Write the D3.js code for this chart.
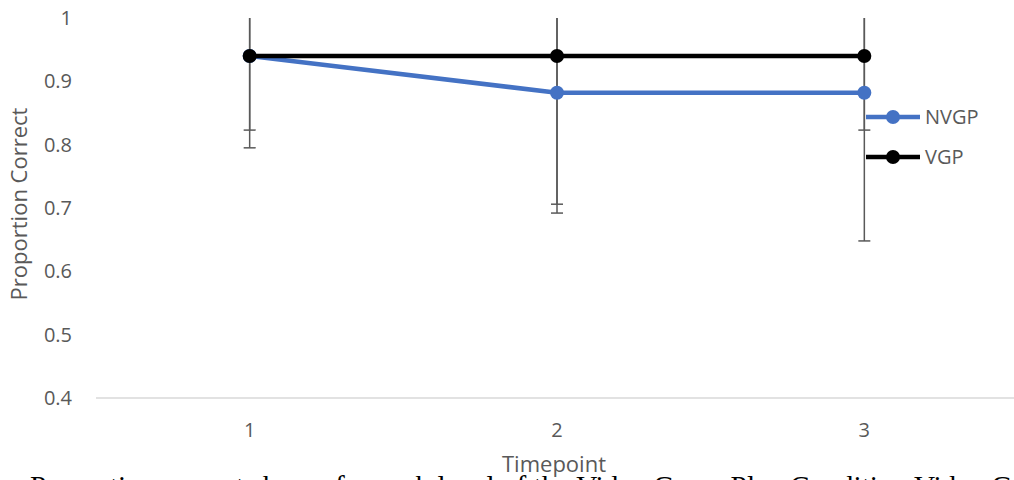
<!DOCTYPE html>
<html>
<head>
<meta charset="utf-8">
<script src="https://cdn.jsdelivr.net/npm/d3@7"></script>
<style>
  body { margin: 0; background: #fff; }
  svg { display: block; }
</style>
</head>
<body>
<svg id="chart" width="1014" height="480"></svg>
<script>
// data
var timepoints = ["1", "2", "3"];
var seriesNames = ["NVGP", "VGP"];
var nvgp = [0.94, 0.882, 0.882];
var vgp = [0.94, 0.94, 0.94];
var nvgpErr = [0.117, 0.176, 0.234];
var vgpErr = [0.145, 0.248, 0.117];
var yTicks = [0.4, 0.5, 0.6, 0.7, 0.8, 0.9, 1];
var colors = ["#4472c4", "#000000"];

var svg = d3.select("#chart");
var plotLeft = 96, plotRight = 1018, plotTop = 18, plotBottom = 398;

var x = d3.scaleBand().domain(timepoints).range([plotLeft, plotRight]);
var y = d3.scaleLinear().domain([0.4, 1]).range([plotBottom, plotTop]);

var font = "'Open Sans', 'DejaVu Sans', sans-serif";

// y tick labels
svg.append("g").selectAll("text")
    .data(yTicks)
    .enter().append("text")
    .attr("x", plotLeft - 24)
    .attr("y", function (d) { return y(d); })
    .attr("dy", "0.35em")
    .attr("text-anchor", "end")
    .attr("font-family", font)
    .attr("font-size", 20)
    .attr("fill", "#595959")
    .text(function (d) { return d; });

// baseline
svg.append("line")
    .attr("x1", plotLeft).attr("x2", plotRight)
    .attr("y1", y(0.4)).attr("y2", y(0.4))
    .attr("stroke", "#d9d9d9").attr("stroke-width", 1.3);

// x tick labels
svg.append("g").selectAll("text")
    .data(timepoints)
    .enter().append("text")
    .attr("x", function (d) { return x(d) + x.bandwidth() / 2; })
    .attr("y", 430)
    .attr("dy", "0.35em")
    .attr("text-anchor", "middle")
    .attr("font-family", font)
    .attr("font-size", 20)
    .attr("fill", "#595959")
    .text(function (d) { return d; });

// axis titles
svg.append("text")
    .attr("x", 554).attr("y", 464)
    .attr("dy", "0.35em")
    .attr("text-anchor", "middle")
    .attr("font-family", font)
    .attr("font-size", 22)
    .attr("fill", "#595959")
    .text("Timepoint");

svg.append("text")
    .attr("transform", "translate(19,204) rotate(-90)")
    .attr("dy", "0.35em")
    .attr("text-anchor", "middle")
    .attr("font-family", font)
    .attr("font-size", 22)
    .attr("fill", "#595959")
    .text("Proportion Correct");

// clip for the plot area (error bars run past 1)
svg.append("clipPath").attr("id", "plotclip")
    .append("rect")
    .attr("x", 0).attr("y", plotTop)
    .attr("width", 1014).attr("height", plotBottom - plotTop);

var plot = svg.append("g").attr("clip-path", "url(#plotclip)");

var series = [
    {name: seriesNames[0], values: nvgp, err: nvgpErr, color: colors[0]},
    {name: seriesNames[1], values: vgp, err: vgpErr, color: colors[1]}
];

var cx = function (i) { return x(timepoints[i]) + x.bandwidth() / 2; };

// error bars
series.forEach(function (s) {
    var g = plot.append("g");
    s.values.forEach(function (v, i) {
        var lo = v - s.err[i], hi = v + s.err[i];
        g.append("line")
            .attr("x1", cx(i)).attr("x2", cx(i))
            .attr("y1", y(hi)).attr("y2", y(lo))
            .attr("stroke", "#595959").attr("stroke-width", 1.5);
        [lo, hi].forEach(function (e) {
            g.append("line")
                .attr("x1", cx(i) - 6).attr("x2", cx(i) + 6)
                .attr("y1", y(e)).attr("y2", y(e))
                .attr("stroke", "#595959").attr("stroke-width", 1.5);
        });
    });
});

var line = d3.line()
    .x(function (d, i) { return cx(i); })
    .y(function (d) { return y(d); });

series.forEach(function (s) {
    plot.append("path")
        .datum(s.values)
        .attr("d", line)
        .attr("fill", "none")
        .attr("stroke", s.color)
        .attr("stroke-width", 4.5);
    plot.append("g").selectAll("circle")
        .data(s.values)
        .enter().append("circle")
        .attr("cx", function (d, i) { return cx(i); })
        .attr("cy", function (d) { return y(d); })
        .attr("r", 7)
        .attr("fill", s.color);
});

// legend
var legend = svg.append("g").attr("transform", "translate(866,117)");
series.forEach(function (s, i) {
    var g = legend.append("g").attr("transform", "translate(0," + (i * 40) + ")");
    g.append("line")
        .attr("x1", 0).attr("x2", 54)
        .attr("stroke", s.color).attr("stroke-width", 4.5);
    g.append("circle").attr("cx", 27).attr("r", 7).attr("fill", s.color);
    g.append("text")
        .attr("x", 59).attr("dy", "0.35em")
        .attr("font-family", font)
        .attr("font-size", 20)
        .attr("fill", "#595959")
        .text(s.name);
});

// caption under the chart (cut off by the frame)
svg.append("text")
    .attr("x", 30).attr("y", 496)
    .attr("font-family", "'Liberation Serif', 'Times New Roman', serif")
    .attr("font-size", 29.3)
    .attr("fill", "#000")
    .text("Proportion correct shown for each level of the Video Game Play Condition Video Game");
</script>
</body>
</html>
